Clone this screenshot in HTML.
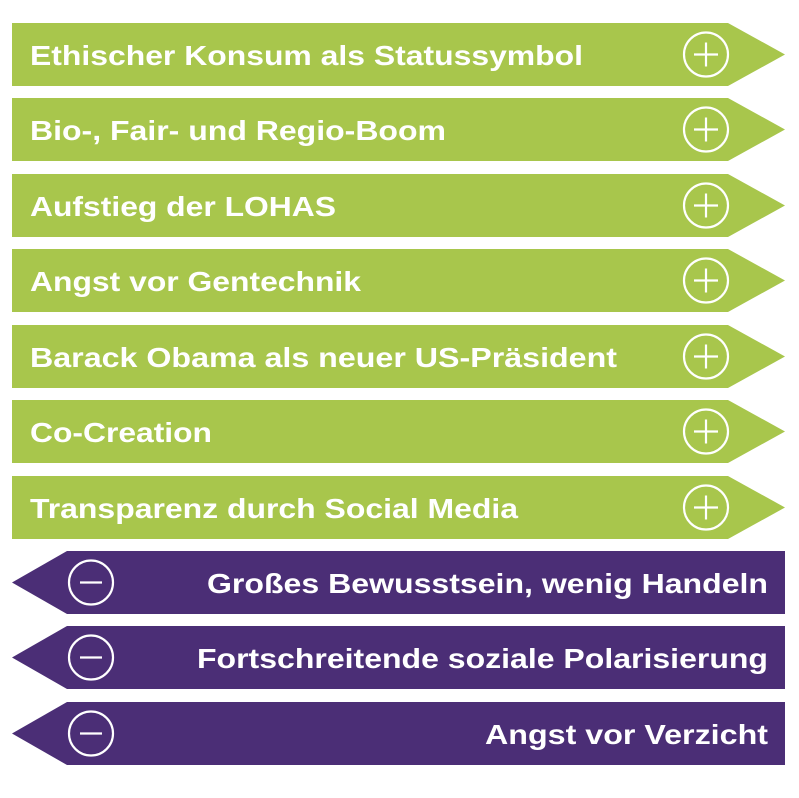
<!DOCTYPE html>
<html><head><meta charset="utf-8"><style>
body{margin:0;width:799px;height:793px;background:#fff;overflow:hidden}
svg text{font-family:"Liberation Sans",Arial,sans-serif;font-weight:bold;font-size:28px;fill:#fff}
</style></head><body>
<svg width="799" height="793" xmlns="http://www.w3.org/2000/svg">
<g fill="#a8c64c">
<polygon points="12,23 728,23 785,54.5 728,86 12,86"/>
<polygon points="12,98 728,98 785,129.5 728,161 12,161"/>
<polygon points="12,174 728,174 785,205.5 728,237 12,237"/>
<polygon points="12,249 728,249 785,280.5 728,312 12,312"/>
<polygon points="12,325 728,325 785,356.5 728,388 12,388"/>
<polygon points="12,400 728,400 785,431.5 728,463 12,463"/>
<polygon points="12,476 728,476 785,507.5 728,539 12,539"/>
</g>
<g fill="#4b2e76">
<polygon points="785,551 67,551 12,582.5 67,614 785,614"/>
<polygon points="785,626 67,626 12,657.5 67,689 785,689"/>
<polygon points="785,702 67,702 12,733.5 67,765 785,765"/>
</g>
<g fill="none" stroke="#fff" stroke-width="2.2">
<circle cx="706" cy="54.5" r="22"/><path d="M694 54.5H718M706 42.5V66.5"/>
<circle cx="706" cy="129.5" r="22"/><path d="M694 129.5H718M706 117.5V141.5"/>
<circle cx="706" cy="205.5" r="22"/><path d="M694 205.5H718M706 193.5V217.5"/>
<circle cx="706" cy="280.5" r="22"/><path d="M694 280.5H718M706 268.5V292.5"/>
<circle cx="706" cy="356.5" r="22"/><path d="M694 356.5H718M706 344.5V368.5"/>
<circle cx="706" cy="431.5" r="22"/><path d="M694 431.5H718M706 419.5V443.5"/>
<circle cx="706" cy="507.5" r="22"/><path d="M694 507.5H718M706 495.5V519.5"/>
<circle cx="91" cy="582.5" r="22"/><path d="M80 582.5H102"/>
<circle cx="91" cy="657.5" r="22"/><path d="M80 657.5H102"/>
<circle cx="91" cy="733.5" r="22"/><path d="M80 733.5H102"/>
</g>
<g lengthAdjust="spacingAndGlyphs">
<text x="30" y="65" textLength="553" lengthAdjust="spacingAndGlyphs">Ethischer Konsum als Statussymbol</text>
<text x="30" y="140" textLength="416" lengthAdjust="spacingAndGlyphs">Bio-, Fair- und Regio-Boom</text>
<text x="30" y="216" textLength="306" lengthAdjust="spacingAndGlyphs">Aufstieg der LOHAS</text>
<text x="30" y="291" textLength="331" lengthAdjust="spacingAndGlyphs">Angst vor Gentechnik</text>
<text x="30" y="367" textLength="587" lengthAdjust="spacingAndGlyphs">Barack Obama als neuer US-Präsident</text>
<text x="30" y="442" textLength="182" lengthAdjust="spacingAndGlyphs">Co-Creation</text>
<text x="30" y="518" textLength="488" lengthAdjust="spacingAndGlyphs">Transparenz durch Social Media</text>
<text x="207" y="593" textLength="561" lengthAdjust="spacingAndGlyphs">Großes Bewusstsein, wenig Handeln</text>
<text x="197" y="668" textLength="571" lengthAdjust="spacingAndGlyphs">Fortschreitende soziale Polarisierung</text>
<text x="485" y="744" textLength="283" lengthAdjust="spacingAndGlyphs">Angst vor Verzicht</text>
</g>
</svg>
</body></html>
